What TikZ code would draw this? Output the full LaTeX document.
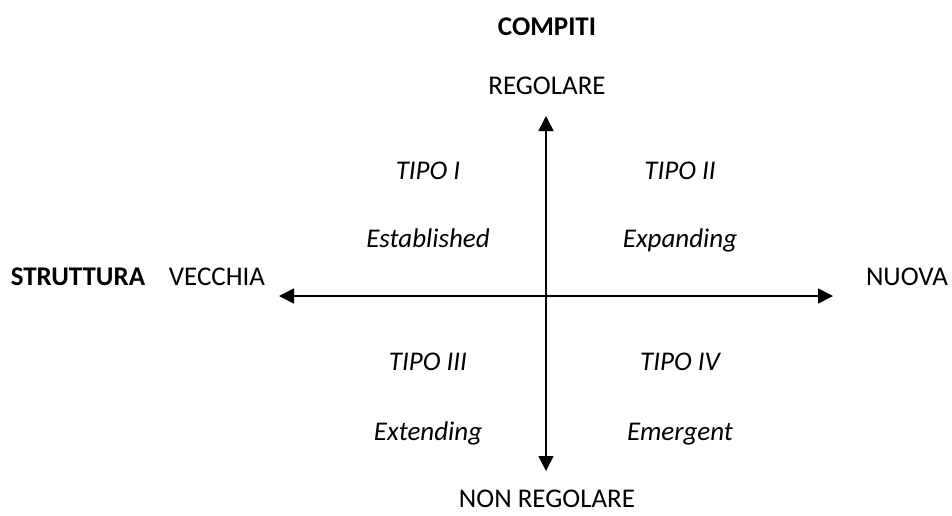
\documentclass[tikz,border=0pt]{standalone}
\usepackage{fontspec}
\setmainfont{Carlito}
\usetikzlibrary{arrows.meta}
\begin{document}
\begin{tikzpicture}[x=1pt,y=-1pt,
  lbl/.style={font=\fontsize{27}{30}\selectfont, inner sep=0pt, text height=0.66em, text depth=0.22em},
  bold/.style={lbl, font=\fontsize{27}{30}\selectfont\bfseries},
  ital/.style={lbl, font=\fontsize{27}{30}\selectfont\itshape},
  axis/.style={line width=1.6pt, {Triangle[length=15pt,width=15pt]}-{Triangle[length=15pt,width=15pt]}}]
\useasboundingbox (0,0) rectangle (952,515);
\coordinate (L) at (279,296);
\coordinate (R) at (833,296);
\coordinate (T) at (546,116);
\coordinate (B) at (546,471);
\draw[axis] (L) -- (R);
\draw[axis] (B) -- (T);
\node[bold] (compiti) at (547,33) {COMPITI};
\node[lbl] (reg) at (547,92) {REGOLARE};
\node[lbl] (nonreg) at (547,505) {NON REGOLARE};
\node[bold] (strutt) at (78,283) {STRUTTURA};
\node[lbl] (vecchia) at (217,283) {VECCHIA};
\node[lbl] (nuova) at (907,283) {NUOVA};
\node[ital] (t1) at (428,177) {TIPO I};
\node[ital] (e1) at (428,245) {Established};
\node[ital] (t2) at (680,177) {TIPO II};
\node[ital] (e2) at (680,245) {Expanding};
\node[ital] (t3) at (428,368) {TIPO III};
\node[ital] (e3) at (428,438) {Extending};
\node[ital] (t4) at (680,368) {TIPO IV};
\node[ital] (e4) at (680,438) {Emergent};
\end{tikzpicture}
\end{document}
